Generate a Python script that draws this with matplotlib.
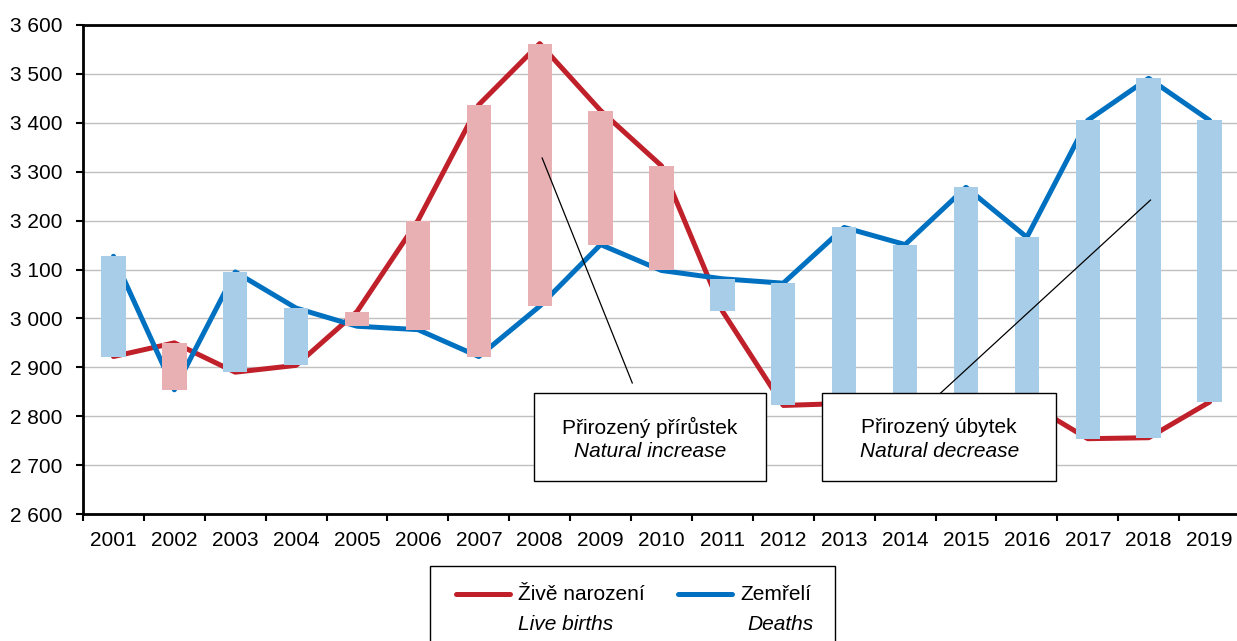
import numpy as np
import matplotlib
matplotlib.use('Agg')
import matplotlib.pyplot as plt
from matplotlib.patches import Rectangle
from matplotlib.lines import Line2D
from matplotlib.ticker import FuncFormatter, FixedLocator

plt.rcParams['font.family'] = ['Liberation Sans', 'DejaVu Sans']

years = ['2001', '2002', '2003', '2004', '2005', '2006', '2007', '2008', '2009', '2010',
         '2011', '2012', '2013', '2014', '2015', '2016', '2017', '2018', '2019']
births = [2922, 2950, 2890, 2904, 3014, 3200, 3437, 3562, 3425, 3312,
          3015, 2822, 2826, 2834, 2842, 2829, 2754, 2756, 2829]
deaths = [3127, 2854, 3095, 3021, 2984, 2977, 2922, 3025, 3151, 3098,
          3081, 3072, 3186, 3151, 3268, 3166, 3405, 3491, 3405]

red = '#c0202a'
blue = '#0070c0'
pink = '#e8b0b3'
lightblue = '#a8cde8'
fs = 15

fig = plt.figure(figsize=(12.37, 6.41), dpi=100)
ax = fig.add_axes([83/1237, 1-514/641, (1240-83)/1237, (514-25)/641])

x = np.arange(len(years))
ax.plot(x, births, color=red, lw=3.6, solid_capstyle='round', zorder=2)
ax.plot(x, deaths, color=blue, lw=3.6, solid_capstyle='round', zorder=2)

lo = np.minimum(births, deaths)
hi = np.maximum(births, deaths)
cols = [pink if b > d else lightblue for b, d in zip(births, deaths)]
ax.bar(x, hi - lo, bottom=lo, width=0.4, color=cols, zorder=3)

ax.set_xlim(-0.5, len(years) - 0.5)
ax.set_ylim(2600, 3600)
ax.set_yticks(np.arange(2600, 3601, 100))
ax.yaxis.set_major_formatter(FuncFormatter(lambda v, p: f'{int(v):,}'.replace(',', ' ')))
ax.grid(axis='y', color='#c0c0c0', lw=1, zorder=0)
ax.set_axisbelow(True)

ax.set_xticks(x)
ax.set_xticklabels(years)
ax.xaxis.set_minor_locator(FixedLocator(np.arange(-0.5, len(years), 1)))
ax.tick_params(axis='x', which='major', length=0, pad=12, labelsize=fs)
ax.tick_params(axis='x', which='minor', length=5, width=1.5, direction='out')
ax.tick_params(axis='y', length=5, width=1.5, pad=10, labelsize=fs)

for s in ['left', 'bottom', 'top']:
    ax.spines[s].set_linewidth(2)
    ax.spines[s].set_color('black')
ax.spines['right'].set_visible(False)

# annotation boxes
def note(x0, x1, y0, y1, l1, l2):
    ax.add_patch(Rectangle((x0, y0), x1 - x0, y1 - y0, facecolor='white',
                           edgecolor='black', lw=1, zorder=5))
    xc = (x0 + x1) / 2
    ax.text(xc, 2776, l1, ha='center', va='center', fontsize=fs, zorder=6)
    ax.text(xc, 2727, l2, ha='center', va='center', fontsize=fs, style='italic', zorder=6)

ax.plot([7.04, 8.52], [3328, 2868], color='black', lw=0.9, zorder=4)
ax.plot([17.03, 13.58], [3242, 2847], color='black', lw=0.9, zorder=4)
note(6.9, 10.72, 2667, 2847, 'Přirozený přírůstek', 'Natural increase')
note(11.64, 15.48, 2667, 2847, 'Přirozený úbytek', 'Natural decrease')

# legend
fig.patches.append(Rectangle((430/1237, -0.05), (835-430)/1237, 0.05 + 1-566/641,
                             transform=fig.transFigure, facecolor='white',
                             edgecolor='black', lw=1))
yl = 1 - 594/641
fig.lines.append(Line2D([456/1237, 510/1237], [yl, yl], color=red, lw=3.6,
                        solid_capstyle='round', transform=fig.transFigure))
fig.lines.append(Line2D([678/1237, 732/1237], [yl, yl], color=blue, lw=3.6,
                        solid_capstyle='round', transform=fig.transFigure))
fig.text(518/1237, yl, 'Živě narození', fontsize=fs, va='center')
fig.text(740/1237, yl, 'Zemřelí', fontsize=fs, va='center')
fig.text(518/1237, 1 - 624/641, 'Live births', fontsize=fs, va='center', style='italic')
fig.text(814/1237, 1 - 624/641, 'Deaths', fontsize=fs, va='center', ha='right', style='italic')

fig.savefig('out.png', dpi=100)
